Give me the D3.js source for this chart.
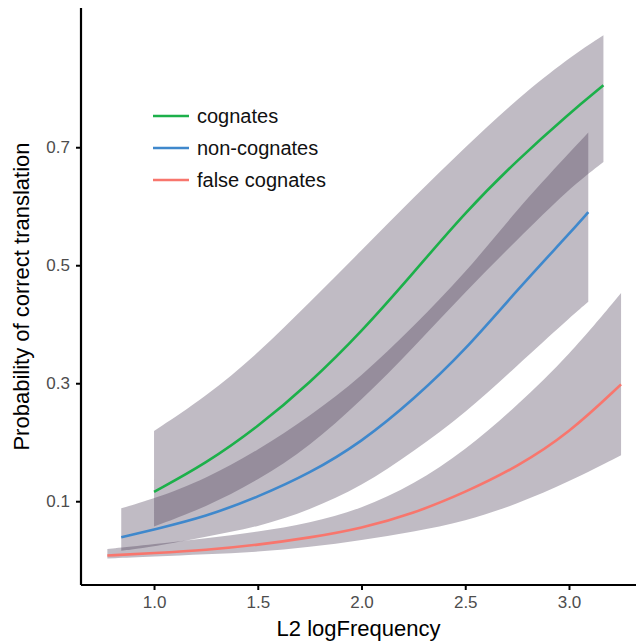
<!DOCTYPE html>
<html>
  <head>
    <meta charset="utf-8">
    <title></title>
  </head>
  <style>
  body{
      margin: 0;
      background-color: #fff;
      font-family: "Liberation Sans", Arial, sans-serif;
    }
  </style>
  <script src="https://d3js.org/d3.v7.min.js"></script>
  <body>
    <script>
    // values (L2 logFrequency -> probability)
    var cognX   = [1.0, 1.25, 1.5, 1.75, 2.0, 2.25, 2.5, 2.75, 3.0, 3.166]
    var cognFit = [0.116, 0.164, 0.226, 0.300, 0.387, 0.487, 0.590, 0.678, 0.757, 0.805]
    var cognLo  = [0.057, 0.090, 0.135, 0.193, 0.271, 0.360, 0.455, 0.543, 0.630, 0.675]
    var cognHi  = [0.219, 0.277, 0.350, 0.437, 0.525, 0.615, 0.700, 0.782, 0.852, 0.890]

    var nonX   = [0.842, 1.0, 1.25, 1.5, 1.75, 2.0, 2.25, 2.5, 2.75, 3.0, 3.093]
    var nonFit = [0.039, 0.052, 0.074, 0.107, 0.147, 0.200, 0.272, 0.356, 0.458, 0.553, 0.590]
    var nonLo  = [0.016, 0.023, 0.040, 0.056, 0.085, 0.125, 0.184, 0.249, 0.330, 0.410, 0.438]
    var nonHi  = [0.088, 0.104, 0.138, 0.186, 0.244, 0.311, 0.396, 0.486, 0.595, 0.690, 0.725]

    var falseX   = [0.775, 1.0, 1.25, 1.5, 1.75, 2.0, 2.25, 2.5, 2.75, 3.0, 3.251]
    var falseFit = [0.008, 0.012, 0.017, 0.026, 0.038, 0.054, 0.079, 0.115, 0.158, 0.215, 0.298]
    var falseLo  = [0.003, 0.006, 0.010, 0.014, 0.022, 0.034, 0.048, 0.066, 0.095, 0.133, 0.178]
    var falseHi  = [0.019, 0.027, 0.037, 0.048, 0.063, 0.087, 0.128, 0.186, 0.262, 0.347, 0.453]

    var groups  = ["cognates", "non-cognates", "false cognates"]
    var xTicks  = [1.0, 1.5, 2.0, 2.5, 3.0]
    var yTicks  = [0.1, 0.3, 0.5, 0.7]

    var colors = ["#1cb04a", "#3f88cc", "#f8766d"]

    var W = 636, H = 643
    var pad = { left: 81, right: 636, top: 8, bottom: 585 }

    var svg = d3.select("body")
                .append("svg")
                .attr("width", W)
                .attr("height", H)

    var xScale = d3.scaleLinear().domain([0.648, 3.323]).range([pad.left, pad.right])
    var yScale = d3.scaleLinear().domain([-0.042, 0.936]).range([pad.bottom, pad.top])

    function rows(xs, fit, lo, hi){
      return xs.map(function(x, i){ return {x: x, fit: fit[i], lo: lo[i], hi: hi[i]} })
    }
    var series = [
      rows(cognX, cognFit, cognLo, cognHi),
      rows(nonX, nonFit, nonLo, nonHi),
      rows(falseX, falseFit, falseLo, falseHi)
    ]

    var area = d3.area()
                 .x(function(d){ return xScale(d.x) })
                 .y0(function(d){ return yScale(d.lo) })
                 .y1(function(d){ return yScale(d.hi) })
                 .curve(d3.curveBasis)

    var line = d3.line()
                 .x(function(d){ return xScale(d.x) })
                 .y(function(d){ return yScale(d.fit) })
                 .curve(d3.curveBasis)

    // confidence ribbons
    svg.append("g")
       .selectAll("path")
       .data(series)
       .enter()
       .append("path")
       .attr("d", area)
       .attr("fill", "rgb(66,51,78)")
       .attr("fill-opacity", 0.333)

    // fitted lines
    svg.append("g")
       .selectAll("path")
       .data(series)
       .enter()
       .append("path")
       .attr("d", line)
       .attr("fill", "none")
       .attr("stroke", function(d, i){ return colors[i] })
       .attr("stroke-width", 2.6)

    // axes
    var xAxis = svg.append("g")
       .attr("transform", "translate(0," + pad.bottom + ")")
       .call(d3.axisBottom(xScale).tickValues(xTicks).tickFormat(d3.format(".1f")).tickSizeOuter(0).tickSize(5).tickPadding(6))
    var yAxis = svg.append("g")
       .attr("transform", "translate(" + pad.left + ",0)")
       .call(d3.axisLeft(yScale).tickValues(yTicks).tickFormat(d3.format(".1f")).tickSizeOuter(0).tickSize(5).tickPadding(6))

    ;[xAxis, yAxis].forEach(function(a){
      a.select(".domain").attr("stroke", "#000").attr("stroke-width", 2.2)
      a.selectAll(".tick line").attr("stroke", "#000").attr("stroke-width", 2)
      a.selectAll(".tick text")
       .attr("fill", "#4d4d4d")
       .attr("font-size", "17px")
       .attr("font-family", "Liberation Sans, Arial, sans-serif")
    })
    xAxis.select(".domain").attr("d", "M" + pad.left + ",0H" + pad.right)
    yAxis.select(".domain").attr("d", "M0," + pad.top + "V" + pad.bottom)

    // axis titles
    svg.append("text")
       .text("L2 logFrequency")
       .attr("x", (pad.left + pad.right) / 2)
       .attr("y", 636)
       .attr("text-anchor", "middle")
       .attr("font-size", "22px")
       .attr("fill", "#000")

    svg.append("text")
       .text("Probability of correct translation")
       .attr("transform", "translate(29," + (pad.top + pad.bottom) / 2 + ") rotate(-90)")
       .attr("text-anchor", "middle")
       .attr("font-size", "22px")
       .attr("fill", "#000")

    // legend
    var legend = svg.append("g")
                    .selectAll("g")
                    .data(groups)
                    .enter()
                    .append("g")
                    .attr("transform", function(d, i){ return "translate(153," + (116 + i * 32) + ")" })
    legend.append("line")
          .attr("x1", 0).attr("x2", 36)
          .attr("stroke", function(d, i){ return colors[i] })
          .attr("stroke-width", 2.6)
    legend.append("text")
          .text(function(d){ return d })
          .attr("x", 44)
          .attr("dy", "0.35em")
          .attr("font-size", "20px")
          .attr("fill", "#111")
    </script>
  </body>
</html>
